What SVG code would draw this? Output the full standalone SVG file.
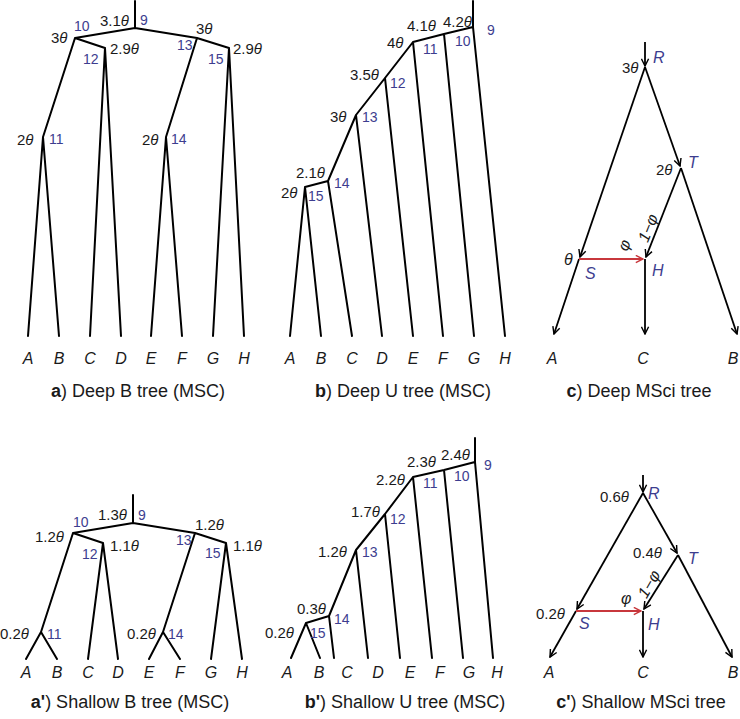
<svg xmlns="http://www.w3.org/2000/svg" width="740" height="719" viewBox="0 0 740 719">
<style>
text{font-family:"Liberation Sans",Arial,sans-serif;}
.e{stroke:#000;stroke-width:2;fill:none;stroke-linecap:round;stroke-linejoin:round;}
.ar{stroke:#000;stroke-width:1.8;fill:none;marker-end:url(#ah);}
.red{stroke:#c8373c;stroke-width:1.8;fill:none;marker-end:url(#ahr);}
.t{font-size:15px;fill:#1a1a1a;}
.i{font-style:italic;}
.g{font-size:16px;font-style:italic;fill:#1a1a1a;}
.n{font-size:14px;fill:#3d3d8f;}
.nl{font-size:16px;fill:#3d3d8f;font-style:italic;}
.lf{font-size:16px;font-style:italic;fill:#1a1a1a;text-anchor:middle;}
.cap{font-size:18px;fill:#1a1a1a;text-anchor:middle;}
.b{font-weight:bold;}
</style>
<defs>
<marker id="ah" viewBox="0 0 10 10" refX="9" refY="5" markerWidth="9" markerHeight="9" markerUnits="userSpaceOnUse" orient="auto"><path d="M1,1 L9,5 L1,9" fill="none" stroke="#000" stroke-width="1.6"/></marker>
<marker id="ahr" viewBox="0 0 10 10" refX="9" refY="5" markerWidth="9" markerHeight="9" markerUnits="userSpaceOnUse" orient="auto"><path d="M1,1 L9,5 L1,9" fill="none" stroke="#c8373c" stroke-width="1.6"/></marker>
</defs>

<!-- Panel a -->
<g id="panel-a">
<g id="a-connectors">
<path class="e" d="M135,1 L135,28 M135,28 L75,38 M135,28 L197,38 M75,38 L43,137 M75,38 L105,48 M43,137 L28,336 M43,137 L59,336 M105,48 L90,336 M105,48 L121,336 M197,38 L166,137 M197,38 L229,48 M166,137 L151,336 M166,137 L182,336 M229,48 L213,336 M229,48 L244,336"/>
</g>
<g id="a-n9"><text class="t" x="100" y="26">3.1<tspan class="i">θ</tspan></text><text class="n" x="140" y="25">9</text></g>
<g id="a-n10"><text class="t" x="51" y="43">3<tspan class="i">θ</tspan></text><text class="n" x="74" y="31">10</text></g>
<g id="a-n12"><text class="t" x="110" y="54">2.9<tspan class="i">θ</tspan></text><text class="n" x="83" y="64">12</text></g>
<g id="a-n11"><text class="t" x="17" y="145">2<tspan class="i">θ</tspan></text><text class="n" x="49" y="144">11</text></g>
<g id="a-n13"><text class="t" x="196" y="34">3<tspan class="i">θ</tspan></text><text class="n" x="177" y="50">13</text></g>
<g id="a-n15"><text class="t" x="233" y="54">2.9<tspan class="i">θ</tspan></text><text class="n" x="208" y="64">15</text></g>
<g id="a-n14"><text class="t" x="142" y="145">2<tspan class="i">θ</tspan></text><text class="n" x="171" y="144">14</text></g>
<g id="a-leaves"><text class="lf" x="28" y="364">A</text><text class="lf" x="59" y="364">B</text><text class="lf" x="90" y="364">C</text><text class="lf" x="121" y="364">D</text><text class="lf" x="151" y="364">E</text><text class="lf" x="182" y="364">F</text><text class="lf" x="213" y="364">G</text><text class="lf" x="244" y="364">H</text></g>
<text class="cap" x="138" y="397"><tspan class="b">a</tspan>) Deep B tree (MSC)</text>
</g>

<!-- Panel b -->
<g id="panel-b">
<g id="b-connectors">
<path class="e" d="M473,1 L473,27 L444,34 L413,42 L385,78 L356,115 L328,181 L305,187 M305,187 L290,336 M305,187 L321,336 M328,181 L352,336 M356,115 L382,336 M385,78 L413,336 M413,42 L443,336 M444,34 L474,336 M473,27 L505,336"/>
</g>
<g id="b-n9"><text class="n" x="487" y="35">9</text></g>
<g id="b-n10"><text class="t" x="443" y="27">4.2<tspan class="i">θ</tspan></text><text class="n" x="455" y="46">10</text></g>
<g id="b-n11"><text class="t" x="407" y="31">4.1<tspan class="i">θ</tspan></text><text class="t" x="387" y="48">4<tspan class="i">θ</tspan></text><text class="n" x="423" y="54">11</text></g>
<g id="b-n12"><text class="t" x="350" y="80">3.5<tspan class="i">θ</tspan></text><text class="n" x="390" y="88">12</text></g>
<g id="b-n13"><text class="t" x="330" y="122">3<tspan class="i">θ</tspan></text><text class="n" x="362" y="122">13</text></g>
<g id="b-n14"><text class="t" x="296" y="178">2.1<tspan class="i">θ</tspan></text><text class="n" x="334" y="188">14</text></g>
<g id="b-n15"><text class="t" x="281" y="198">2<tspan class="i">θ</tspan></text><text class="n" x="308" y="201">15</text></g>
<g id="b-leaves"><text class="lf" x="290" y="364">A</text><text class="lf" x="321" y="364">B</text><text class="lf" x="352" y="364">C</text><text class="lf" x="382" y="364">D</text><text class="lf" x="413" y="364">E</text><text class="lf" x="443" y="364">F</text><text class="lf" x="474" y="364">G</text><text class="lf" x="505" y="364">H</text></g>
<text class="cap" x="403" y="397"><tspan class="b">b</tspan>) Deep U tree (MSC)</text>
</g>

<!-- Panel c -->
<g id="panel-c">
<g id="c-connectors">
<line class="ar" x1="645" y1="42" x2="645" y2="66"/>
<line class="ar" x1="645" y1="67" x2="580" y2="257"/>
<line class="ar" x1="645" y1="67" x2="680" y2="166"/>
<line class="ar" x1="579" y1="259" x2="554" y2="334"/>
<line class="ar" x1="681" y1="168" x2="646" y2="257"/>
<line class="ar" x1="681" y1="168" x2="737" y2="334"/>
<line class="ar" x1="645" y1="259" x2="645" y2="334"/>
<line class="red" x1="579" y1="259" x2="643" y2="259"/>
</g>
<g id="c-R"><text class="t" x="622" y="73">3<tspan class="i">θ</tspan></text><text class="nl" x="653" y="63">R</text></g>
<g id="c-T"><text class="t" x="656" y="175">2<tspan class="i">θ</tspan></text><text class="nl" x="688" y="168">T</text></g>
<g id="c-S"><text class="g" x="564" y="265">θ</text><text class="nl" x="585" y="279">S</text></g>
<g id="c-H"><text class="nl" x="652" y="276">H</text></g>
<text class="g" x="624" y="245" text-anchor="middle" dominant-baseline="central" transform="rotate(-68 624 245)">φ</text>
<text class="g" x="648" y="228" text-anchor="middle" dominant-baseline="central" transform="rotate(-68 648 228)">1−φ</text>
<g id="c-leaves"><text class="lf" x="552" y="364">A</text><text class="lf" x="643" y="364">C</text><text class="lf" x="733" y="364">B</text></g>
<text class="cap" x="639" y="397"><tspan class="b">c</tspan>) Deep MSci tree</text>
</g>

<!-- Panel a' -->
<g id="panel-a2">
<g id="a2-connectors">
<path class="e" d="M133,495 L133,523 M133,523 L73,533 M133,523 L195,533 M73,533 L41,632 M73,533 L103,543 M41,632 L26,659 M41,632 L57,659 M103,543 L88,659 M103,543 L118,659 M195,533 L163,632 M195,533 L226,543 M163,632 L149,659 M163,632 L180,659 M226,543 L211,659 M226,543 L242,659"/>
</g>
<g id="a2-n9"><text class="t" x="98" y="520">1.3<tspan class="i">θ</tspan></text><text class="n" x="138" y="520">9</text></g>
<g id="a2-n10"><text class="t" x="35" y="542">1.2<tspan class="i">θ</tspan></text><text class="n" x="73" y="527">10</text></g>
<g id="a2-n12"><text class="t" x="110" y="551">1.1<tspan class="i">θ</tspan></text><text class="n" x="82" y="559">12</text></g>
<g id="a2-n11"><text class="t" x="0" y="639">0.2<tspan class="i">θ</tspan></text><text class="n" x="47" y="639">11</text></g>
<g id="a2-n13"><text class="t" x="195" y="530">1.2<tspan class="i">θ</tspan></text><text class="n" x="176" y="545">13</text></g>
<g id="a2-n15"><text class="t" x="233" y="551">1.1<tspan class="i">θ</tspan></text><text class="n" x="205" y="558">15</text></g>
<g id="a2-n14"><text class="t" x="127" y="639">0.2<tspan class="i">θ</tspan></text><text class="n" x="168" y="639">14</text></g>
<g id="a2-leaves"><text class="lf" x="26" y="678">A</text><text class="lf" x="57" y="678">B</text><text class="lf" x="88" y="678">C</text><text class="lf" x="118" y="678">D</text><text class="lf" x="149" y="678">E</text><text class="lf" x="180" y="678">F</text><text class="lf" x="211" y="678">G</text><text class="lf" x="242" y="678">H</text></g>
<text class="cap" x="130" y="708"><tspan class="b">a'</tspan>) Shallow B tree (MSC)</text>
</g>

<!-- Panel b' -->
<g id="panel-b2">
<g id="b2-connectors">
<path class="e" d="M475,438 L475,462 L444,470 L413,477 L385,514 L356,550 L329,616 L306,623 M306,623 L291,658 M306,623 L320,658 M329,616 L334,658 M356,550 L368,658 M385,514 L400,658 M413,477 L432,658 M444,470 L463,658 M475,462 L493,658"/>
</g>
<g id="b2-n9"><text class="n" x="484" y="470">9</text></g>
<g id="b2-n10"><text class="t" x="441" y="460">2.4<tspan class="i">θ</tspan></text><text class="n" x="454" y="481">10</text></g>
<g id="b2-n11"><text class="t" x="407" y="467">2.3<tspan class="i">θ</tspan></text><text class="t" x="376" y="485">2.2<tspan class="i">θ</tspan></text><text class="n" x="423" y="488">11</text></g>
<g id="b2-n12"><text class="t" x="351" y="517">1.7<tspan class="i">θ</tspan></text><text class="n" x="390" y="524">12</text></g>
<g id="b2-n13"><text class="t" x="318" y="557">1.2<tspan class="i">θ</tspan></text><text class="n" x="362" y="557">13</text></g>
<g id="b2-n14"><text class="t" x="297" y="614">0.3<tspan class="i">θ</tspan></text><text class="n" x="334" y="624">14</text></g>
<g id="b2-n15"><text class="t" x="265" y="638">0.2<tspan class="i">θ</tspan></text><text class="n" x="310" y="638">15</text></g>
<g id="b2-leaves"><text class="lf" x="287" y="678">A</text><text class="lf" x="319" y="678">B</text><text class="lf" x="347" y="678">C</text><text class="lf" x="378" y="678">D</text><text class="lf" x="410" y="678">E</text><text class="lf" x="440" y="678">F</text><text class="lf" x="469" y="678">G</text><text class="lf" x="497" y="678">H</text></g>
<text class="cap" x="405" y="708"><tspan class="b">b'</tspan>) Shallow U tree (MSC)</text>
</g>

<!-- Panel c' -->
<g id="panel-c2">
<g id="c2-connectors">
<line class="ar" x1="643" y1="475" x2="643" y2="492"/>
<line class="ar" x1="643" y1="493" x2="577" y2="609"/>
<line class="ar" x1="643" y1="493" x2="677" y2="553"/>
<line class="ar" x1="576" y1="611" x2="550" y2="657"/>
<line class="ar" x1="678" y1="555" x2="644" y2="609"/>
<line class="ar" x1="678" y1="555" x2="732" y2="657"/>
<line class="ar" x1="643" y1="611" x2="643" y2="657"/>
<line class="red" x1="576" y1="611" x2="641" y2="611"/>
</g>
<g id="c2-R"><text class="t" x="600" y="502">0.6<tspan class="i">θ</tspan></text><text class="nl" x="648" y="499">R</text></g>
<g id="c2-T"><text class="t" x="633" y="558">0.4<tspan class="i">θ</tspan></text><text class="nl" x="688" y="564">T</text></g>
<g id="c2-S"><text class="t" x="536" y="619">0.2<tspan class="i">θ</tspan></text><text class="nl" x="579" y="629">S</text></g>
<g id="c2-H"><text class="nl" x="648" y="630">H</text></g>
<text class="g" x="621" y="604">φ</text>
<text class="g" x="649" y="584" text-anchor="middle" dominant-baseline="central" transform="rotate(-60 649 584)">1−φ</text>
<g id="c2-leaves"><text class="lf" x="549" y="678">A</text><text class="lf" x="643" y="678">C</text><text class="lf" x="733" y="678">B</text></g>
<text class="cap" x="641" y="708"><tspan class="b">c'</tspan>) Shallow MSci tree</text>
</g>
</svg>
